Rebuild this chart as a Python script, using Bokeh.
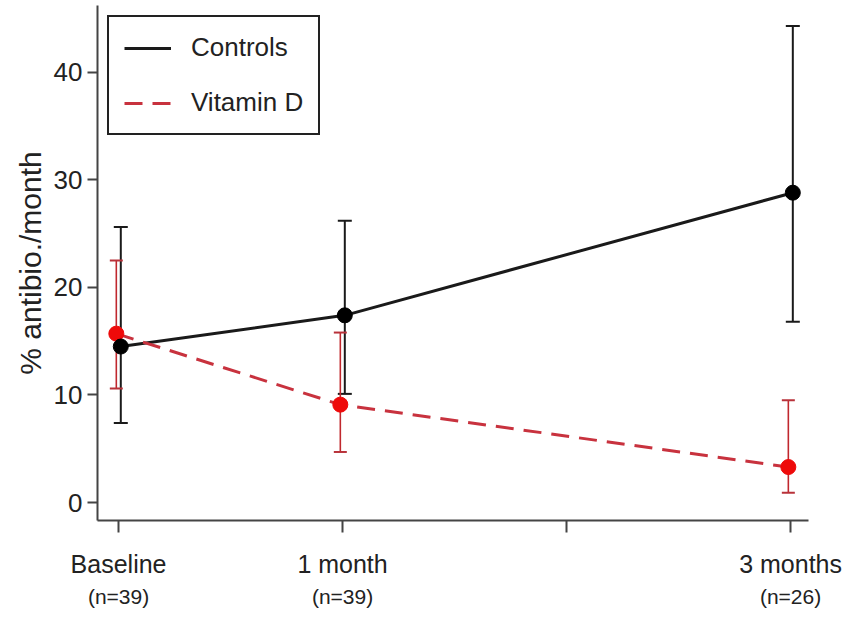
import math
from bokeh.plotting import figure
from bokeh.models import (ColumnDataSource, Whisker, TeeHead, LinearAxis, FixedTicker,
                          Legend, LegendItem, Range1d)
from bokeh.embed import file_html
from bokeh.resources import INLINE

# ---- data ----
timepoints = [0, 1, 3]
tick_labels = ["Baseline", "1 month", "3 months"]
n_labels = ["(n=39)", "(n=39)", "(n=26)"]
controls_mean = [14.5, 17.4, 28.8]
controls_lower = [7.4, 10.1, 16.8]
controls_upper = [25.6, 26.2, 44.3]
vitd_mean = [15.7, 9.1, 3.3]
vitd_lower = [10.6, 4.7, 0.9]
vitd_upper = [22.5, 15.8, 9.5]
y_ticks = [0, 10, 20, 30, 40]

FONT = "'Liberation Sans', Arial, sans-serif"
TXT = "#222222"
AX = "#444444"

off = 0.01
src_c = ColumnDataSource(dict(x=[t + off for t in timepoints], y=controls_mean,
                              lo=controls_lower, hi=controls_upper))
src_v = ColumnDataSource(dict(x=[t - off for t in timepoints], y=vitd_mean,
                              lo=vitd_lower, hi=vitd_upper))

p = figure(width=853, height=619, output_backend="svg", toolbar_location=None,
           x_range=Range1d(-0.094, 3.080), y_range=Range1d(-1.67, 46.2),
           x_axis_location=None, y_axis_location=None,
           min_border_left=97, min_border_right=45, min_border_top=5, min_border_bottom=99)
p.outline_line_color = None
p.xgrid.visible = False
p.ygrid.visible = False
p.background_fill_color = "white"
p.border_fill_color = "white"

# left axis
yax = LinearAxis(ticker=FixedTicker(ticks=y_ticks))
yax.axis_line_color = AX
yax.axis_line_width = 2
yax.major_tick_line_color = AX
yax.major_tick_line_width = 2
yax.major_tick_out = 10
yax.major_tick_in = 0
yax.minor_tick_line_color = None
yax.major_label_text_font = FONT
yax.major_label_text_font_size = "26px"
yax.major_label_text_color = TXT
yax.major_label_standoff = 5
yax.axis_label = "% antibio./month"
yax.axis_label_text_font = FONT
yax.axis_label_text_font_size = "30px"
yax.axis_label_text_font_style = "normal"
yax.axis_label_text_color = TXT
yax.axis_label_standoff = 4
p.add_layout(yax, "left")

# bottom axis (names)
xax = LinearAxis(ticker=FixedTicker(ticks=[0, 1, 2, 3]))
xax.major_label_overrides = {t: lab for t, lab in zip(timepoints, tick_labels)}
xax.major_label_overrides[2] = ""
xax.axis_line_color = AX
xax.axis_line_width = 2
xax.major_tick_line_color = AX
xax.major_tick_line_width = 2
xax.major_tick_out = 12
xax.major_tick_in = 0
xax.minor_tick_line_color = None
xax.major_label_text_font = FONT
xax.major_label_text_font_size = "25px"
xax.major_label_text_color = TXT
xax.major_label_standoff = 17
p.add_layout(xax, "below")

# second bottom axis (n)
xax2 = LinearAxis(ticker=FixedTicker(ticks=timepoints))
xax2.major_label_overrides = {t: lab for t, lab in zip(timepoints, n_labels)}
xax2.axis_line_color = None
xax2.major_tick_line_color = None
xax2.minor_tick_line_color = None
xax2.major_tick_out = 0
xax2.major_tick_in = 0
xax2.major_label_text_font = FONT
xax2.major_label_text_font_size = "21px"
xax2.major_label_text_color = TXT
xax2.major_label_standoff = 4
p.add_layout(xax2, "below")

# error bars
wc = Whisker(source=src_c, base="x", lower="lo", upper="hi",
             line_color="#1a1a1a", line_width=2,
             upper_head=TeeHead(size=14, line_color="#1a1a1a", line_width=2),
             lower_head=TeeHead(size=14, line_color="#1a1a1a", line_width=2))
wv = Whisker(source=src_v, base="x", lower="lo", upper="hi",
             line_color="#c0282e", line_width=1.6,
             upper_head=TeeHead(size=13, line_color="#b8323a", line_width=2),
             lower_head=TeeHead(size=13, line_color="#b8323a", line_width=2))
p.add_layout(wc)
p.add_layout(wv)

lc = p.line("x", "y", source=src_c, line_color="#1a1a1a", line_width=3)
lv = p.line("x", "y", source=src_v, line_color="#c8323e", line_width=3,
            line_dash="18 10")
p.scatter("x", "y", source=src_v, size=15, fill_color="#ee0a0a", line_color="#ee0a0a")
p.scatter("x", "y", source=src_c, size=15, fill_color="#000000", line_color="#000000")

legend = Legend(items=[LegendItem(label="Controls", renderers=[lc]),
                       LegendItem(label="Vitamin D", renderers=[lv])],
                location=(10, 385))
legend.border_line_color = "#222222"
legend.border_line_alpha = 1.0
legend.border_line_width = 2
legend.background_fill_alpha = 1.0
legend.label_text_font = FONT
legend.label_text_font_size = "26px"
legend.label_text_color = TXT
legend.glyph_width = 47
legend.glyph_height = 30
legend.label_height = 30
legend.label_standoff = 20
legend.spacing = 24
legend.padding = 15
legend.margin = 0
p.add_layout(legend)

open("out.html", "w").write(file_html(p, INLINE))
